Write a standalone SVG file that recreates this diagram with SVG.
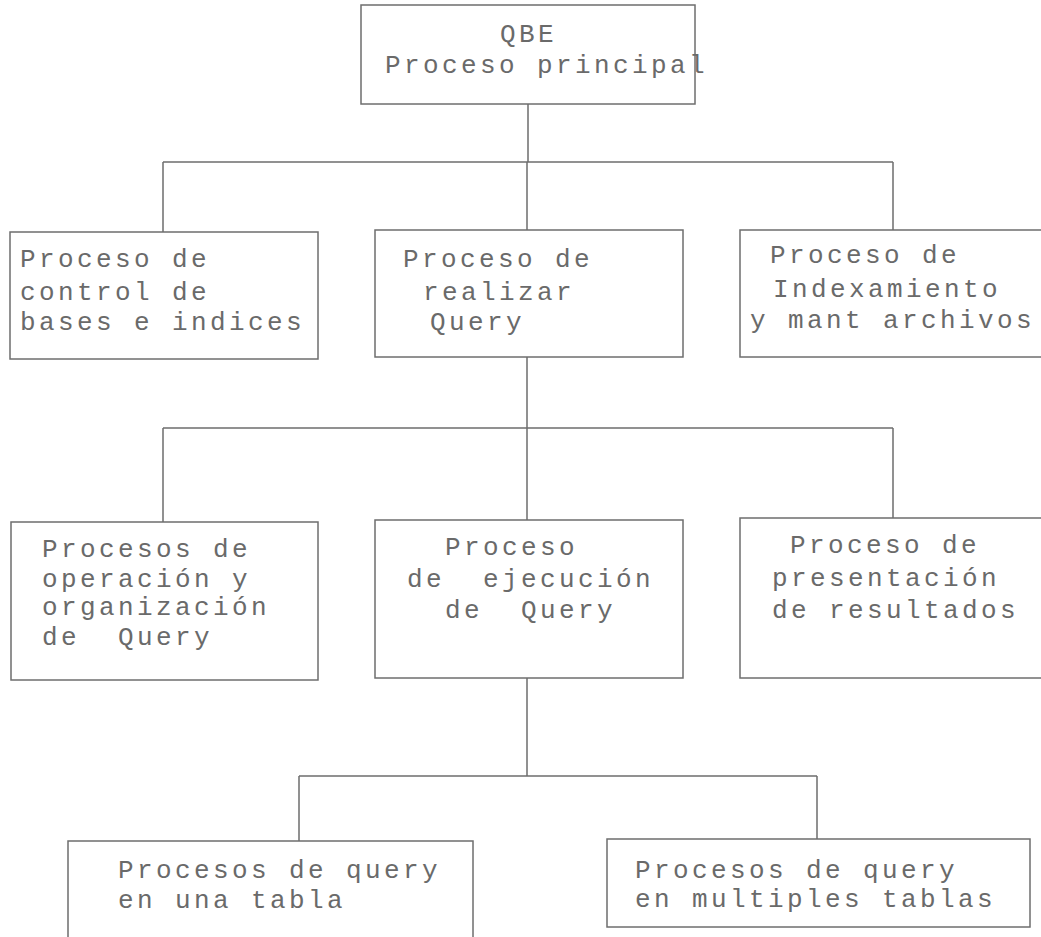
<svg xmlns="http://www.w3.org/2000/svg" width="1041" height="937" viewBox="0 0 1041 937">
<style>
.box{fill:#fff;stroke:#6e6e6e;stroke-width:1.5}
.ln{fill:none;stroke:#6e6e6e;stroke-width:1.5}
text{font-family:"Liberation Mono","DejaVu Sans Mono",monospace;font-size:26px;letter-spacing:3.4px;fill:#6a6a6a;white-space:pre}
</style>
<rect width="1041" height="937" fill="#fff"/>
<g id="connectors">
<path class="ln" d="M528 104V162M163 162H893M163 162V232M527 162V230M893 162V230"/>
<path class="ln" d="M527 357V428M163 428H893M163 428V522M527 428V520M893 428V518"/>
<path class="ln" d="M527 678V776M299 776H817M299 776V841M817 776V839"/>
</g>
<g id="n0"><rect class="box" x="361" y="5" width="334" height="99"/>
<text x="500" y="42" xml:space="preserve">QBE</text><text x="385" y="73" xml:space="preserve">Proceso principal</text></g>
<g id="n1"><rect class="box" x="10" y="232" width="308" height="127"/>
<text x="20" y="267">Proceso de</text><text x="20" y="300">control de</text><text x="20" y="330">bases e indices</text></g>
<g id="n2"><rect class="box" x="375" y="230" width="308" height="127"/>
<text x="403" y="267">Proceso de</text><text x="423" y="300">realizar</text><text x="430" y="330">Query</text></g>
<g id="n3"><rect class="box" x="740" y="230" width="310" height="127"/>
<text x="770" y="263">Proceso de</text><text x="773" y="297">Indexamiento</text><text x="750" y="328">y mant archivos</text></g>
<g id="n4"><rect class="box" x="11" y="522" width="307" height="158"/>
<text x="42" y="557">Procesos de</text><text x="42" y="587">operación y</text><text x="42" y="615">organización</text><text x="42" y="645" xml:space="preserve">de  Query</text></g>
<g id="n5"><rect class="box" x="375" y="520" width="308" height="158"/>
<text x="445" y="555">Proceso</text><text x="407" y="587" xml:space="preserve">de  ejecución</text><text x="445" y="618" xml:space="preserve">de  Query</text></g>
<g id="n6"><rect class="box" x="740" y="518" width="310" height="160"/>
<text x="790" y="553">Proceso de</text><text x="772" y="586">presentación</text><text x="772" y="618">de resultados</text></g>
<g id="n7"><rect class="box" x="68" y="841" width="405" height="110"/>
<text x="118" y="878">Procesos de query</text><text x="118" y="908">en una tabla</text></g>
<g id="n8"><rect class="box" x="607" y="839" width="423" height="88"/>
<text x="635" y="878">Procesos de query</text><text x="635" y="907">en multiples tablas</text></g>
</svg>
